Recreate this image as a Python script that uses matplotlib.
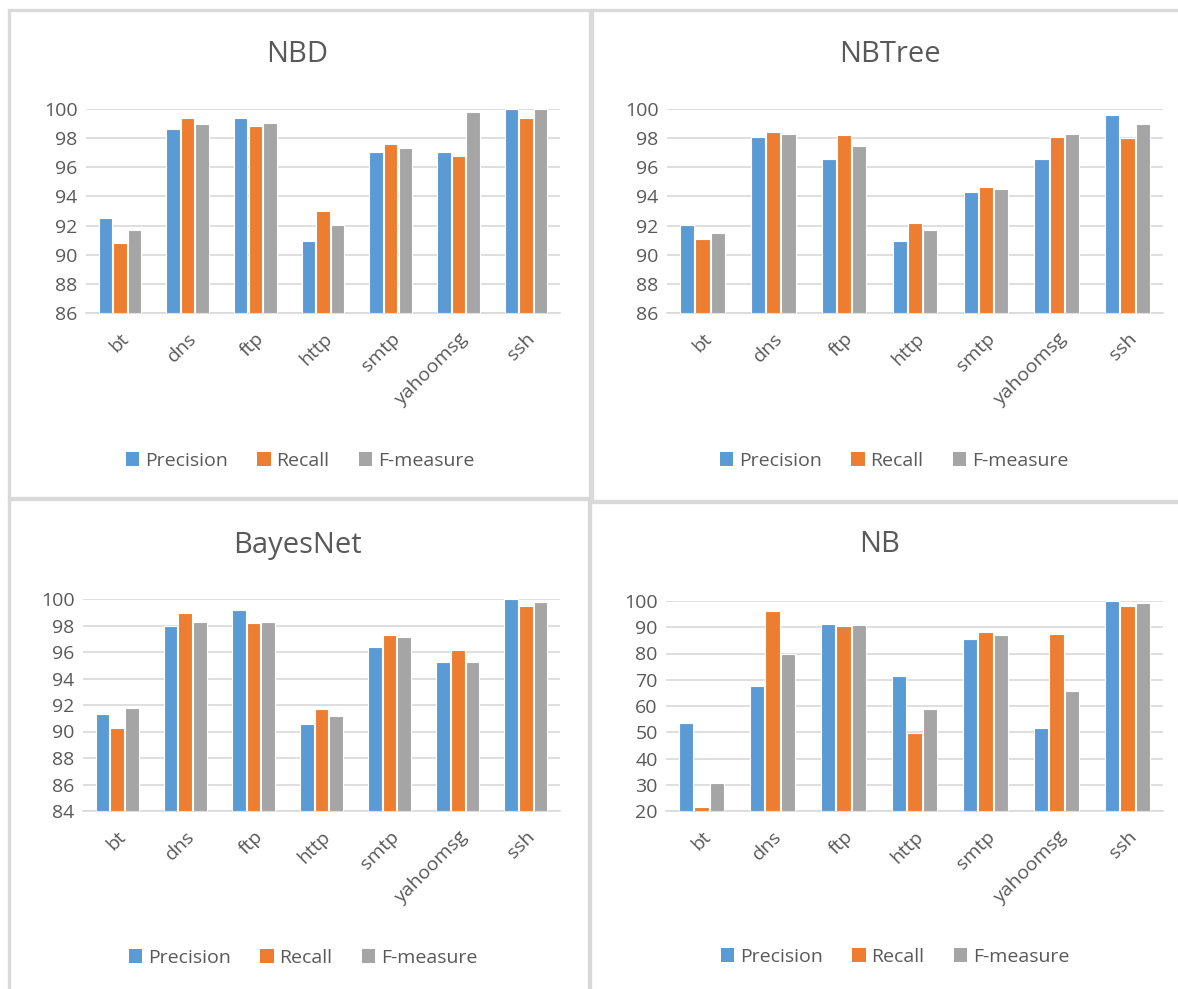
import matplotlib.pyplot as plt
import numpy as np
from matplotlib.patches import Rectangle, Patch

plt.rcParams['font.family'] = ['Open Sans', 'DejaVu Sans']

W, H = 1178, 989

categories = ['bt', 'dns', 'ftp', 'http', 'smtp', 'yahoomsg', 'ssh']
series_names = ['Precision', 'Recall', 'F-measure']
colors = ['#5B9BD5', '#ED7D31', '#A5A5A5']

# NBD
nbd_precision = [92.55, 98.63, 99.4, 90.96, 97.05, 97.05, 100.0]
nbd_recall = [90.8, 99.4, 98.8, 92.97, 97.6, 96.77, 99.4]
nbd_fmeasure = [91.67, 99.0, 99.06, 92.04, 97.32, 99.8, 100.0]

# NBTree
nbtree_precision = [92.04, 98.08, 96.59, 90.96, 94.3, 96.59, 99.6]
nbtree_recall = [91.05, 98.44, 98.19, 92.2, 94.67, 98.08, 98.0]
nbtree_fmeasure = [91.49, 98.28, 97.48, 91.67, 94.5, 98.28, 99.0]

# BayesNet
bayes_precision = [91.29, 98.0, 99.17, 90.6, 96.34, 95.28, 100.0]
bayes_recall = [90.23, 98.94, 98.18, 91.67, 97.32, 96.14, 99.47]
bayes_fmeasure = [91.77, 98.26, 98.26, 91.19, 97.12, 95.28, 99.75]

# NB
nb_precision = [53.7, 67.8, 91.35, 71.6, 85.4, 51.8, 100.0]
nb_recall = [21.4, 96.05, 90.33, 49.75, 88.3, 87.4, 98.1]
nb_fmeasure = [30.7, 79.65, 90.84, 59.0, 86.9, 65.9, 99.1]

TEXT = '#595959'
GRID = '#D9D9D9'


def px_rect(x0, y0, x1, y1):
    return [x0 / W, 1 - y1 / H, (x1 - x0) / W, (y1 - y0) / H]


fig = plt.figure(figsize=(W / 100, H / 100), dpi=100)

# panel borders
for (x0, y0, x1, y1) in [(9, 10, 590, 498), (592, 10, 1180, 501),
                         (9, 499, 589, 992), (590, 502, 1180, 992)]:
    fig.patches.append(Rectangle((x0 / W, 1 - y1 / H), (x1 - x0) / W, (y1 - y0) / H,
                                 transform=fig.transFigure, fill=False,
                                 edgecolor=GRID, linewidth=2.4))

panels = [
    ('NBD', [nbd_precision, nbd_recall, nbd_fmeasure], (86, 109, 560, 313), (86, 100, 2), (297, 55), (300, 461)),
    ('NBTree', [nbtree_precision, nbtree_recall, nbtree_fmeasure], (667, 109, 1163, 313), (86, 100, 2), (890, 55), (894, 461)),
    ('BayesNet', [bayes_precision, bayes_recall, bayes_fmeasure], (83, 599, 560, 811), (84, 100, 2), (297, 545), (303, 958)),
    ('NB', [nb_precision, nb_recall, nb_fmeasure], (666, 601, 1163, 811), (20, 100, 10), (880, 545), (895, 957)),
]

x = np.arange(len(categories))
width = 0.2
offset = 0.215

for title, series, rect, (ymin, ymax, step), tpos, lpos in panels:
    ax = fig.add_axes(px_rect(*rect))
    for i, vals in enumerate(series):
        ax.bar(x + (i - 1) * offset, np.array(vals) - ymin, width, bottom=ymin,
               color=colors[i], edgecolor='white', linewidth=0.8, zorder=3)
    ax.set_xlim(-0.5, len(categories) - 0.5)
    ax.set_ylim(ymin, ymax)
    ax.set_yticks(np.arange(ymin, ymax + 0.1, step))
    ax.yaxis.grid(True, color=GRID, linewidth=1.2, zorder=0)
    ax.set_axisbelow(True)
    for s in ['top', 'right', 'left']:
        ax.spines[s].set_visible(False)
    ax.spines['bottom'].set_color(GRID)
    ax.spines['bottom'].set_linewidth(1.2)
    ax.tick_params(length=0, colors=TEXT, labelsize=14)
    ax.tick_params(axis='y', pad=6)
    ax.set_xticks(x)
    ax.set_xticklabels(categories, rotation=45, ha='right', rotation_mode='anchor',
                       fontsize=14, color=TEXT)
    ax.tick_params(axis='x', pad=12)

    fig.text(tpos[0] / W, 1 - tpos[1] / H, title, ha='center', va='center',
             fontsize=21, color=TEXT)

    handles = [Patch(facecolor=c, edgecolor='none') for c in colors]
    fig.legend(handles, series_names, loc='center',
               bbox_to_anchor=(lpos[0] / W, 1 - lpos[1] / H), ncol=3,
               frameon=False, fontsize=14, labelcolor=TEXT,
               handlelength=0.7, handleheight=0.7, handletextpad=0.3,
               columnspacing=1.5)

fig.savefig('out.png', dpi=100, facecolor='white')
